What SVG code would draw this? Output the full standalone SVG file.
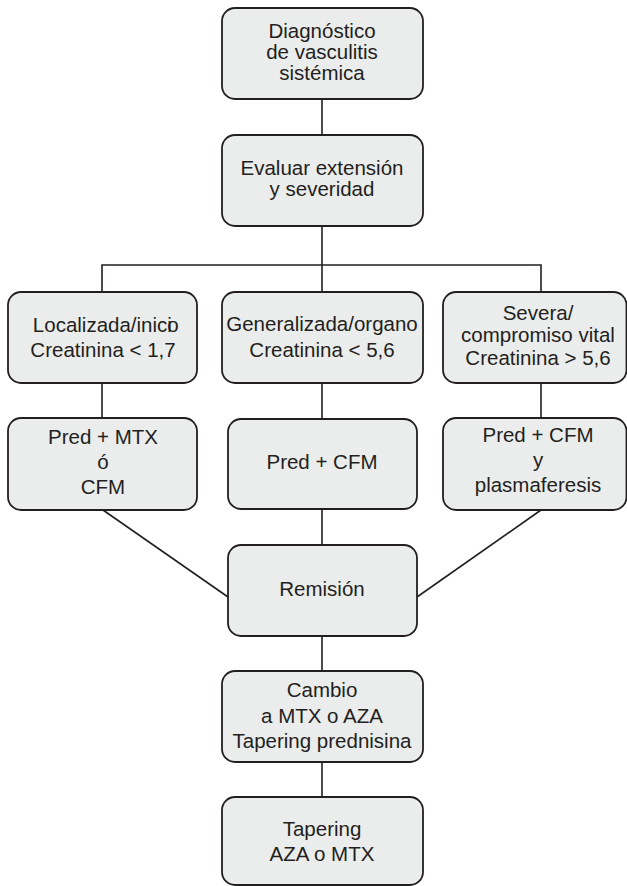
<svg xmlns="http://www.w3.org/2000/svg" width="627" height="886" viewBox="0 0 627 886">
<style>
.box{fill:#ebecec;stroke:#231f20;stroke-width:1.8}
.t{font-family:"Liberation Sans",Arial,sans-serif;font-size:20.5px;fill:#231f20;text-anchor:middle}
.c{stroke:#231f20;stroke-width:1.6;fill:none}
</style>
<rect width="627" height="886" fill="#ffffff"/>
<g id="connectors">
<line class="c" x1="322" y1="99" x2="322" y2="135"/>
<line class="c" x1="322" y1="226" x2="322" y2="265"/>
<polyline class="c" points="102,292 102,265 541,265 541,292"/>
<line class="c" x1="322" y1="265" x2="322" y2="292"/>
<line class="c" x1="102" y1="383" x2="102" y2="418"/>
<line class="c" x1="322" y1="383" x2="322" y2="419"/>
<line class="c" x1="541" y1="383" x2="541" y2="418"/>
<line class="c" x1="103" y1="510" x2="228" y2="597"/>
<line class="c" x1="541" y1="510" x2="417" y2="597"/>
<line class="c" x1="322" y1="509" x2="322" y2="545"/>
<line class="c" x1="322" y1="636" x2="322" y2="671"/>
<line class="c" x1="322" y1="762" x2="322" y2="797"/>
</g>
<g id="n-diagnostico">
<rect class="box" x="222" y="8" width="201" height="91" rx="13"/>
<text class="t" x="322" y="37.5">Diagnóstico</text>
<text class="t" x="322" y="59">de vasculitis</text>
<text class="t" x="322" y="80">sistémica</text>
</g>
<g id="n-evaluar">
<rect class="box" x="222" y="135" width="201" height="91" rx="13"/>
<text class="t" x="322" y="174.5">Evaluar extensión</text>
<text class="t" x="322" y="196">y severidad</text>
</g>
<g id="n-localizada">
<rect class="box" x="8" y="292" width="189" height="91" rx="13"/>
<text class="t" x="105.8" y="331.5">Localizada/inici<tspan dx="-4.5">o</tspan></text>
<text class="t" x="103" y="357">Creatinina &lt; 1,7</text>
</g>
<g id="n-generalizada">
<rect class="box" x="222" y="292" width="201" height="91" rx="13"/>
<text class="t" x="322" y="331">Generalizada/organo</text>
<text class="t" x="322" y="357">Creatinina &lt; 5,6</text>
</g>
<g id="n-severa">
<rect class="box" x="443" y="292" width="183.5" height="91" rx="13"/>
<text class="t" x="538" y="319.5">Severa/</text>
<text class="t" x="538" y="341.5">compromiso vital</text>
<text class="t" x="538" y="365">Creatinina &gt; 5,6</text>
</g>
<g id="n-predmtx">
<rect class="box" x="8" y="418" width="189" height="92" rx="13"/>
<text class="t" x="103" y="443.5">Pred + MTX</text>
<text class="t" x="103" y="468.5">ó</text>
<text class="t" x="103" y="494">CFM</text>
</g>
<g id="n-predcfm">
<rect class="box" x="228" y="419" width="189" height="90" rx="13"/>
<text class="t" x="322" y="469">Pred + CFM</text>
</g>
<g id="n-plasmaferesis">
<rect class="box" x="443" y="418" width="183.5" height="92" rx="13"/>
<text class="t" x="538" y="442">Pred + CFM</text>
<text class="t" x="538" y="467">y</text>
<text class="t" x="538" y="492">plasmaferesis</text>
</g>
<g id="n-remision">
<rect class="box" x="228" y="545" width="189" height="91" rx="13"/>
<text class="t" x="322" y="596">Remisión</text>
</g>
<g id="n-cambio">
<rect class="box" x="222" y="671" width="201" height="91" rx="13"/>
<text class="t" x="322" y="697">Cambio</text>
<text class="t" x="322" y="722.5">a MTX o AZA</text>
<text class="t" x="322" y="747.5">Tapering prednisina</text>
</g>
<g id="n-tapering">
<rect class="box" x="222" y="797" width="201" height="88" rx="13"/>
<text class="t" x="322" y="836">Tapering</text>
<text class="t" x="322" y="861">AZA o MTX</text>
</g>
</svg>
